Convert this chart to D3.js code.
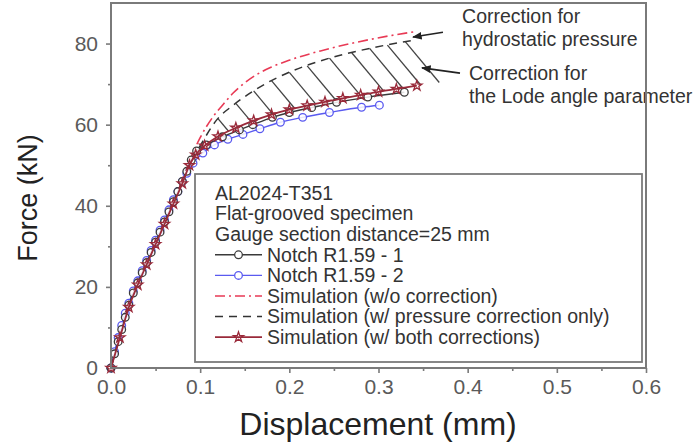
<!DOCTYPE html>
<html>
<head>
<meta charset="utf-8">
<script src="https://cdn.jsdelivr.net/npm/d3@7/dist/d3.min.js"></script>
<style>
  html, body { margin: 0; padding: 0; background: #fff; }
  svg { display: block; }
  text { font-family: "Liberation Sans", Arial, Helvetica, sans-serif; }
</style>
</head>
<body>
<svg id="chart" width="697" height="445"></svg>
<script>
// ---- data: [displacement (mm), force (kN)] ----
const notch1 = [
  [0,0],[0.004,3.5],[0.008,6.5],[0.012,9.5],[0.016,12.5],[0.02,15.5],[0.025,18.5],
  [0.03,21],[0.035,23.5],[0.04,26],[0.045,28.5],[0.05,31],[0.055,33.5],[0.06,36],
  [0.065,38.5],[0.07,41],[0.075,43.5],[0.08,46],[0.085,48.5],[0.09,51.3],[0.096,53.5],
  [0.107,55],[0.125,57],[0.144,58.7],[0.159,60],[0.181,61.8],[0.2,63],[0.225,64.2],
  [0.253,65.5],[0.288,66.8],[0.329,68]
];
const notch2 = [
  [0,0],[0.004,4],[0.008,7.5],[0.012,10.5],[0.016,13.5],[0.02,16],[0.025,19],
  [0.03,21.5],[0.035,24],[0.04,26.5],[0.045,29],[0.05,31.5],[0.055,34],[0.06,36.5],
  [0.065,39],[0.07,41.5],[0.075,43.5],[0.08,46],[0.085,48],[0.092,50.5],[0.103,53],
  [0.116,55],[0.131,56.4],[0.148,57.6],[0.167,59],[0.19,60.6],[0.215,61.8],
  [0.245,63],[0.281,64.3],[0.301,64.8]
];
const simNoCorr = [
  [0,0],[0.02,15.5],[0.05,31],[0.075,43.5],[0.085,49],[0.09,52],[0.1,56.8],
  [0.114,61.8],[0.125,64.8],[0.137,67.8],[0.15,70.3],[0.163,72.3],[0.18,74.2],
  [0.2,75.9],[0.237,78.3],[0.275,80.3],[0.312,81.9],[0.34,82.9]
];
const simPressure = [
  [0,0],[0.02,15.5],[0.05,31],[0.075,43.5],[0.085,48.5],[0.09,51],[0.1,54.8],
  [0.119,61.3],[0.137,64.8],[0.159,68.2],[0.181,71],[0.204,73.3],[0.245,76.4],
  [0.29,78.8],[0.331,80.5],[0.34,80.8]
];
const simBoth = [
  [0,0],[0.01,7.5],[0.02,15],[0.03,20.5],[0.04,25.5],[0.05,30.5],[0.06,35.5],
  [0.07,40.5],[0.08,45.5],[0.088,50],[0.095,52.6],[0.105,54.8],[0.12,57.1],
  [0.14,59.2],[0.16,61],[0.18,62.5],[0.2,63.7],[0.22,64.7],[0.24,65.6],
  [0.26,66.5],[0.28,67.3],[0.3,68.1],[0.32,68.8],[0.343,69.6]
];
// displacements where the hatching between the two corrected simulations starts
const hatchStarts = [0.10,0.12,0.14,0.16,0.18,0.20,0.22,0.245,0.27,0.29,0.31,0.33];

const xTicks = [0,0.1,0.2,0.3,0.4,0.5,0.6];
const xMinor = [0.05,0.15,0.25,0.35,0.45,0.55];
const yTicks = [0,20,40,60,80];
const yMinor = [10,30,50,70];

const headerLines = ["AL2024-T351","Flat-grooved specimen","Gauge section distance=25 mm"];
const legendItems = [
  {label:"Notch R1.59 - 1", key:"notch1"},
  {label:"Notch R1.59 - 2", key:"notch2"},
  {label:"Simulation (w/o correction)", key:"simNoCorr"},
  {label:"Simulation (w/ pressure correction only)", key:"simPressure"},
  {label:"Simulation (w/ both corrections)", key:"simBoth"}
];
// annotation arrows: text anchor -> tip, in data units
const notes = [
  {lines:["Correction for","hydrostatic pressure"], from:[0.3723,82.8], to:[0.3387,81.6], tx:0.3937, ty:85.0},
  {lines:["Correction for","the Lode angle parameter"], from:[0.3914,72.7], to:[0.3488,74.0], tx:0.4015, ty:71.1}
];

// ---- styles ----
const styles = {
  notch1:     {color:"#3a3a3a", width:1.4, dash:null,        marker:"circle"},
  notch2:     {color:"#5a5af0", width:1.4, dash:null,        marker:"circle"},
  simNoCorr:  {color:"#e83a55", width:1.6, dash:"10,4,2,4",  marker:null},
  simPressure:{color:"#333333", width:1.5, dash:"8,6",       marker:null},
  simBoth:    {color:"#9a2a3a", width:1.8, dash:null,        marker:"star"}
};

const svg = d3.select("#chart");
const x = d3.scaleLinear().domain([0,0.6]).range([111,646]);
const y = d3.scaleLinear().domain([0,90]).range([368,3]);
const axisColor = "#7a7a7a";

const line = d3.line().x(d => x(d[0])).y(d => y(d[1])).curve(d3.curveMonotoneX);

// ---- axes ----
const gx = svg.append("g").attr("transform", `translate(0,${y(0)})`)
  .call(d3.axisBottom(x).tickValues(xTicks).tickFormat(d3.format(".1f")).tickSize(5).tickPadding(6));
const gxm = svg.append("g").attr("transform", `translate(0,${y(0)})`)
  .call(d3.axisBottom(x).tickValues(xMinor).tickFormat("").tickSize(3));
const gy = svg.append("g").attr("transform", `translate(${x(0)},0)`)
  .call(d3.axisLeft(y).tickValues(yTicks).tickSize(5).tickPadding(8));
const gym = svg.append("g").attr("transform", `translate(${x(0)},0)`)
  .call(d3.axisLeft(y).tickValues(yMinor).tickFormat("").tickSize(3));
[gx,gxm,gy,gym].forEach(g => {
  g.select(".domain").remove();
  g.selectAll("line").attr("stroke", axisColor).attr("stroke-width", 1.6);
  g.selectAll("text").attr("fill", "#5a5a5a").style("font-size","21px")
    .style("font-family", '"Liberation Sans", Arial, sans-serif');
});
gx.selectAll("text").attr("dy", "0.71em");

// axis titles
svg.append("text").attr("x", 378).attr("y", 435).attr("text-anchor","middle")
  .attr("fill","#222").style("font-size","32px").text("Displacement (mm)");
svg.append("text").attr("transform","translate(37,198) rotate(-90)").attr("text-anchor","middle")
  .attr("fill","#222").style("font-size","27px").text("Force (kN)");

// ---- curves ----
const series = {notch1, notch2, simNoCorr, simPressure, simBoth};
const plot = svg.append("g");

function drawLine(key){
  const s = styles[key];
  plot.append("path").datum(series[key])
    .attr("fill","none").attr("stroke", s.color).attr("stroke-width", s.width)
    .attr("stroke-dasharray", s.dash).attr("stroke-linejoin","round")
    .attr("d", line);
}
function drawMarkers(key){
  const s = styles[key];
  if (!s.marker) return;
  const sym = s.marker === "circle" ? d3.symbolCircle : d3.symbolStar;
  const size = s.marker === "circle" ? 46 : 32;
  plot.append("g").selectAll("path").data(series[key]).join("path")
    .attr("transform", d => `translate(${x(d[0])},${y(d[1])})`)
    .attr("d", d3.symbol().type(sym).size(size))
    .attr("fill", s.marker === "circle" ? "rgba(255,255,255,0.85)" : "none")
    .attr("stroke", s.color).attr("stroke-width", 1.3);
}

drawLine("simNoCorr");
drawLine("simPressure");

// hatching: diagonal strokes from the pressure-only curve down to the both-corrections curve
const fPressure = d3.scaleLinear().domain(simPressure.map(d=>d[0])).range(simPressure.map(d=>d[1]));
const fBoth = d3.scaleLinear().domain(simBoth.map(d=>d[0])).range(simBoth.map(d=>d[1]));
const hatch = hatchStarts.map(d0 => {
  const x0 = x(d0), y0 = y(fPressure(d0));
  let t = 0;
  while (t < 120) {
    const xt = x0 + t, yt = y0 + 1.2 * t;
    if (yt >= y(fBoth(x.invert(xt)))) break;
    t += 0.25;
  }
  return [x0, y0, x0 + t, y0 + 1.2 * t];
});
plot.append("g").selectAll("line").data(hatch).join("line")
  .attr("x1", d=>d[0]).attr("y1", d=>d[1]).attr("x2", d=>d[2]).attr("y2", d=>d[3])
  .attr("stroke","#444").attr("stroke-width",1.3);

drawLine("notch2"); drawMarkers("notch2");
drawLine("notch1"); drawMarkers("notch1");
drawLine("simBoth"); drawMarkers("simBoth");

// ---- annotations ----
svg.append("defs").append("marker").attr("id","arrowhead")
  .attr("viewBox","0 0 10 10").attr("refX",9).attr("refY",5)
  .attr("markerWidth",6).attr("markerHeight",6).attr("orient","auto")
  .append("path").attr("d","M0,1 L10,5 L0,9 Z").attr("fill","#222");
notes.forEach(n => {
  svg.append("line")
    .attr("x1", x(n.from[0])).attr("y1", y(n.from[1]))
    .attr("x2", x(n.to[0])).attr("y2", y(n.to[1]))
    .attr("stroke","#222").attr("stroke-width",1.6).attr("marker-end","url(#arrowhead)");
  const t = svg.append("text").attr("x", x(n.tx)).attr("y", y(n.ty))
    .attr("fill","#333").style("font-size","19.5px");
  n.lines.forEach((l,i) => t.append("tspan").attr("x", x(n.tx)).attr("dy", i ? 23 : 0).text(l));
});

// ---- legend ----
const lg = svg.append("g");
lg.append("rect").attr("x",195).attr("y",174).attr("width",447).attr("height",188)
  .attr("fill","#fff").attr("stroke","#7a7a7a").attr("stroke-width",1.8);
const rowY = i => 193 + i * 20.6;
headerLines.forEach((l,i) => {
  lg.append("text").attr("x",215).attr("y",rowY(i)).attr("dy","0.35em")
    .attr("fill","#333").style("font-size","19.5px").text(l);
});
legendItems.forEach((it,j) => {
  const i = j + headerLines.length, cy = rowY(i), s = styles[it.key];
  lg.append("line").attr("x1",215).attr("x2",262).attr("y1",cy).attr("y2",cy)
    .attr("stroke",s.color).attr("stroke-width",s.width).attr("stroke-dasharray",s.dash);
  if (s.marker) {
    lg.append("path").attr("transform",`translate(238.5,${cy})`)
      .attr("d", d3.symbol().type(s.marker==="circle"?d3.symbolCircle:d3.symbolStar).size(s.marker==="circle"?46:32))
      .attr("fill", s.marker==="circle" ? "#fff" : "none").attr("stroke",s.color).attr("stroke-width",1.3);
  }
  lg.append("text").attr("x",267).attr("y",cy).attr("dy","0.35em")
    .attr("fill","#333").style("font-size","19.5px").text(it.label);
});

// ---- frame ----
svg.append("rect").attr("x", x(0)).attr("y", y(90)).attr("width", x(0.6)-x(0)).attr("height", y(0)-y(90))
  .attr("fill","none").attr("stroke",axisColor).attr("stroke-width",2);
</script>
</body>
</html>
